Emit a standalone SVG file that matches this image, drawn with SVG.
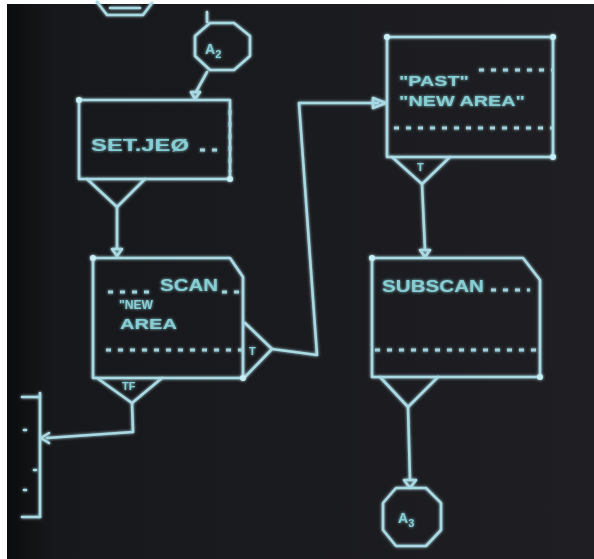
<svg xmlns="http://www.w3.org/2000/svg" width="594" height="559" viewBox="0 0 594 559">
<defs>
<linearGradient id="bg" x1="0" y1="0" x2="1" y2="0">
<stop offset="0" stop-color="#0b0c0d"/>
<stop offset="0.08" stop-color="#17181b"/>
<stop offset="1" stop-color="#1f1f23"/>
</linearGradient>
<filter id="glow" x="-10%" y="-10%" width="120%" height="120%">
<feGaussianBlur in="SourceGraphic" stdDeviation="1.6" result="b"/>
<feMerge><feMergeNode in="b"/><feMergeNode in="SourceGraphic"/></feMerge>
</filter>
</defs>
<style>
.ln{fill:none;stroke:#a9d9e3;stroke-width:2.6;stroke-linejoin:round;stroke-linecap:round}
.dt{fill:none;stroke:#9fd2dc;stroke-width:3;stroke-dasharray:5 7}
.tx{font-family:"Liberation Sans",Arial,sans-serif;font-weight:bold;fill:#86cdd4}
.sm{font-family:"Liberation Sans",Arial,sans-serif;font-weight:bold;fill:#86cdd4;font-size:11px}
.pt{fill:#c6eef4}
</style>
<rect x="0" y="0" width="594" height="559" fill="#ffffff"/>
<rect x="7" y="4" width="587" height="555" fill="url(#bg)"/>
<g filter="url(#glow)">
<g id="top-connector">
<path class="ln" d="M97,2 L107,15 L143,15 L152,3"/>
<path class="ln" d="M110,8 L140,8" stroke-width="2"/>
</g>
<g id="A2">
<path class="ln" d="M210,23 L234,23 L250,36 L250,56 L234,70 L210,70 L195,56 L195,36 Z"/>
<text class="tx" x="205" y="54" font-size="14">A<tspan font-size="11" dy="4">2</tspan></text>
<path class="ln" d="M207,22 L207,12" stroke-width="2"/>
</g>
<g id="set-jeo">
<rect class="ln" x="79" y="100" width="151" height="79"/>
<text class="tx" x="91" y="151" font-size="17" textLength="98" lengthAdjust="spacingAndGlyphs">SET.JEØ</text>
<path class="dt" d="M200,150 L222,150"/>
<path class="dt" d="M230,110 L230,172" stroke-width="1.5" stroke-dasharray="2 14"/>
<path class="ln" d="M87,179 L117,207 L145,179"/>
<circle class="pt" cx="79" cy="100" r="3"/><circle class="pt" cx="230" cy="179" r="3"/>
</g>
<g id="scan">
<path class="ln" d="M93,258 L230,258 L243,277 L243,378 L93,378 Z"/>
<text class="tx" x="160" y="291" font-size="16" textLength="58" lengthAdjust="spacingAndGlyphs">SCAN</text>
<text class="tx" x="119" y="309" font-size="12" textLength="34" lengthAdjust="spacingAndGlyphs">"NEW</text>
<text class="tx" x="120" y="329" font-size="15" textLength="57" lengthAdjust="spacingAndGlyphs">AREA</text>
<path class="dt" d="M108,292 L150,292"/>
<path class="dt" d="M222,292 L243,292"/>
<path class="dt" d="M106,350 L243,350"/>
<path class="ln" d="M245,323 L272,349 L245,377"/>
<text class="sm" x="249" y="355">T</text>
<path class="ln" d="M97,378 L132,403 L162,378"/>
<text class="sm" x="122" y="390" font-size="9">TF</text>
<circle class="pt" cx="93" cy="258" r="3"/><circle class="pt" cx="243" cy="378" r="3"/>
</g>
<g id="past-new-area">
<rect class="ln" x="387" y="37" width="166" height="120"/>
<text class="tx" x="399" y="86" font-size="15" textLength="70" lengthAdjust="spacingAndGlyphs">"PAST"</text>
<text class="tx" x="399" y="106" font-size="15" textLength="126" lengthAdjust="spacingAndGlyphs">"NEW AREA"</text>
<path class="dt" d="M479,70 L553,70"/>
<path class="dt" d="M394,128 L553,128"/>
<path class="ln" d="M392,157 L422,184 L450,157"/>
<text class="sm" x="417" y="171">T</text>
<circle class="pt" cx="387" cy="37" r="3"/><circle class="pt" cx="553" cy="37" r="3"/><circle class="pt" cx="553" cy="157" r="3"/>
</g>
<g id="subscan">
<path class="ln" d="M372,258 L523,258 L540,280 L540,377 L372,377 Z"/>
<text class="tx" x="382" y="292" font-size="17" textLength="102" lengthAdjust="spacingAndGlyphs">SUBSCAN</text>
<path class="dt" d="M491,290 L530,290"/>
<path class="dt" d="M375,350 L540,350"/>
<path class="ln" d="M380,377 L408,407 L438,377"/>
<circle class="pt" cx="372" cy="258" r="3"/><circle class="pt" cx="540" cy="377" r="3"/>
</g>
<g id="A3">
<path class="ln" d="M396,488 L426,488 L441,503 L441,530 L426,546 L396,546 L383,530 L383,503 Z"/>
<text class="tx" x="398" y="523" font-size="14">A<tspan font-size="11" dy="4">3</tspan></text>
</g>
<g id="left-bar">
<path class="ln" d="M40,393 L40,517"/>
<path class="ln" d="M22,397 L40,397"/>
<path class="ln" d="M22,517 L40,517"/>
<path class="ln" d="M24,430 L26,430 M24,490 L26,490 M34,470 L36,470" stroke-width="2"/>
</g>
<g id="connectors">
<path class="ln" d="M207,72 L196,92"/>
<path class="ln" d="M191,92 L200,92 L195,99 Z" stroke-width="2"/>
<path class="ln" d="M117,207 L117,248"/>
<path class="ln" d="M112,249 L122,249 L117,256 Z" stroke-width="2"/>
<path class="ln" d="M272,349 L317,355 L299,103 L378,103"/>
<path class="ln" d="M373,98 L386,103 L373,108 Z" stroke-width="2"/>
<path class="ln" d="M422,184 L425,250"/>
<path class="ln" d="M420,250 L430,250 L425,257 Z" stroke-width="2"/>
<path class="ln" d="M132,403 L133,432 L47,438"/>
<path class="ln" d="M49,433 L41,438 L49,443" stroke-width="2"/>
<path class="ln" d="M408,407 L410,480"/>
<path class="ln" d="M404,480 L416,480 L410,488 Z" stroke-width="2"/>
</g>
</g>
</svg>
